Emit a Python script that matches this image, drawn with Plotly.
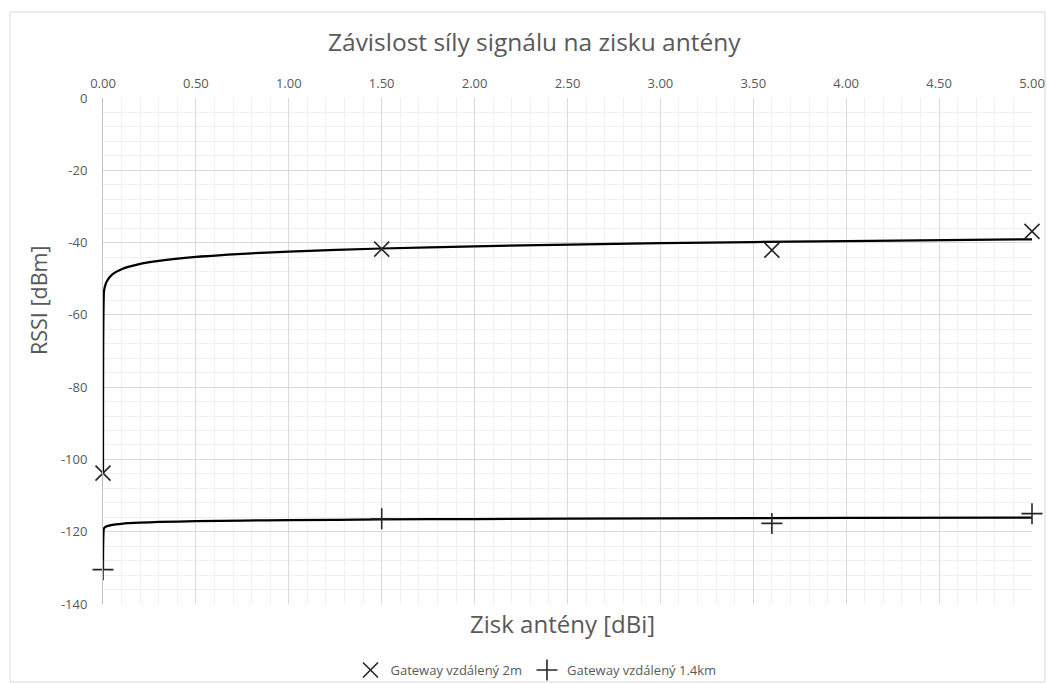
import plotly.graph_objects as go

# Measured points
gain_x = [0.0, 1.5, 3.6, 5.0]
rssi_2m = [-103.8, -41.8, -42.1, -36.9]
rssi_14km = [-130.5, -116.4, -117.7, -115.0]

# Trendline (logarithmic) readings from the picture
trend_x = [0.0, 0.005, 0.01, 0.02, 0.05, 0.1, 0.2, 0.3, 0.5, 0.75, 1.0, 1.5, 2.0, 3.0, 4.0, 5.0]
trend_2m = [-103.8, -53.7, -52.2, -50.75, -48.8, -47.36, -45.9, -45.04, -43.96, -43.1,
            -42.5, -41.64, -41.04, -40.18, -39.57, -39.1]
trend_14km = [-130.5, -119.1, -118.8, -118.5, -118.1, -117.8, -117.5, -117.3, -117.1, -116.9,
              -116.8, -116.6, -116.5, -116.3, -116.2, -116.1]

x_ticks = [0, 0.5, 1, 1.5, 2, 2.5, 3, 3.5, 4, 4.5, 5]
y_ticks = [0, -20, -40, -60, -80, -100, -120, -140]
y_labels = ["0", "-20", "-40", "-60", "-80", "-100", "-120", "-140"]

FONT = "Open Sans"
GRAY = "#595959"
MK = "#262626"

fig = go.Figure()

fig.add_trace(go.Scatter(x=trend_x, y=trend_2m, mode="lines",
                         line=dict(color="black", width=2.25, shape="spline", smoothing=0.6),
                         showlegend=False, hoverinfo="skip"))
fig.add_trace(go.Scatter(x=trend_x, y=trend_14km, mode="lines",
                         line=dict(color="black", width=2.25, shape="spline", smoothing=0.6),
                         showlegend=False, hoverinfo="skip"))

fig.add_trace(go.Scatter(x=gain_x, y=rssi_2m, mode="markers", name="Gateway vzdálený 2m",
                         marker=dict(symbol="x-thin-open", size=15, color=MK,
                                     line=dict(color=MK, width=1.6)),
                         cliponaxis=False))
fig.add_trace(go.Scatter(x=gain_x, y=rssi_14km, mode="markers", name="Gateway vzdálený 1.4km",
                         marker=dict(symbol="cross-thin-open", size=15, color=MK,
                                     line=dict(color=MK, width=1.6)),
                         cliponaxis=False))

W, H = 1047, 683
L, R, T, B = 103, 15, 98, 79
pw = W - L - R
ph = H - T - B


def px_y(py):
    return (H - B - py) / ph


def px_x(px):
    return (px - L) / pw


fig.update_layout(
    width=W, height=H,
    margin=dict(l=L, r=R, t=T, b=B, autoexpand=False),
    paper_bgcolor="white", plot_bgcolor="white",
    font=dict(family=FONT, color=GRAY, size=13),
    xaxis=dict(side="top", range=[0, 5], tickvals=x_ticks, tickformat=".2f",
               showgrid=True, gridcolor="#d9d9d9", gridwidth=1,
               minor=dict(dtick=0.1, showgrid=True, gridcolor="#f0f0f0", gridwidth=1),
               zeroline=False, showline=False, ticks="", ticklabelstandoff=6,
               automargin=False,
               tickfont=dict(family=FONT, size=13, color=GRAY)),
    yaxis=dict(range=[-140, 0], tickvals=y_ticks, ticktext=y_labels,
               showgrid=True, gridcolor="#d9d9d9", gridwidth=1,
               minor=dict(dtick=4, showgrid=True, gridcolor="#f0f0f0", gridwidth=1),
               zeroline=False, showline=True, linecolor="#bfbfbf", linewidth=1,
               ticks="", ticklabelstandoff=12, automargin=False,
               tickfont=dict(family=FONT, size=13, color=GRAY)),
    legend=dict(orientation="h", x=px_x(536), xanchor="center",
                y=px_y(670), yanchor="middle",
                font=dict(family=FONT, size=13, color=GRAY),
                itemwidth=30, bgcolor="rgba(0,0,0,0)", tracegroupgap=0),
    annotations=[
        dict(text="Závislost síly signálu na zisku antény", xref="paper", yref="paper",
             x=px_x(534), y=px_y(42), xanchor="center", yanchor="middle",
             showarrow=False, font=dict(family=FONT, size=24.5, color=GRAY)),
        dict(text="Zisk antény [dBi]", xref="paper", yref="paper",
             x=px_x(562), y=px_y(623), xanchor="center", yanchor="middle",
             showarrow=False, font=dict(family=FONT, size=24, color=GRAY)),
        dict(text="RSSI [dBm]", xref="paper", yref="paper", textangle=-90,
             x=px_x(38), y=px_y(301), xanchor="center", yanchor="middle",
             showarrow=False, font=dict(family=FONT, size=21.5, color=GRAY)),
    ],
    shapes=[dict(type="rect", xref="paper", yref="paper",
                 x0=px_x(10), x1=px_x(1045),
                 y0=px_y(682), y1=px_y(12),
                 line=dict(color="#d9d9d9", width=1), fillcolor="rgba(0,0,0,0)",
                 layer="below")],
)

fig.write_html("out.html",
               config={"displayModeBar": False},
               post_script="document.body.style.margin='0';document.body.style.padding='0';")
